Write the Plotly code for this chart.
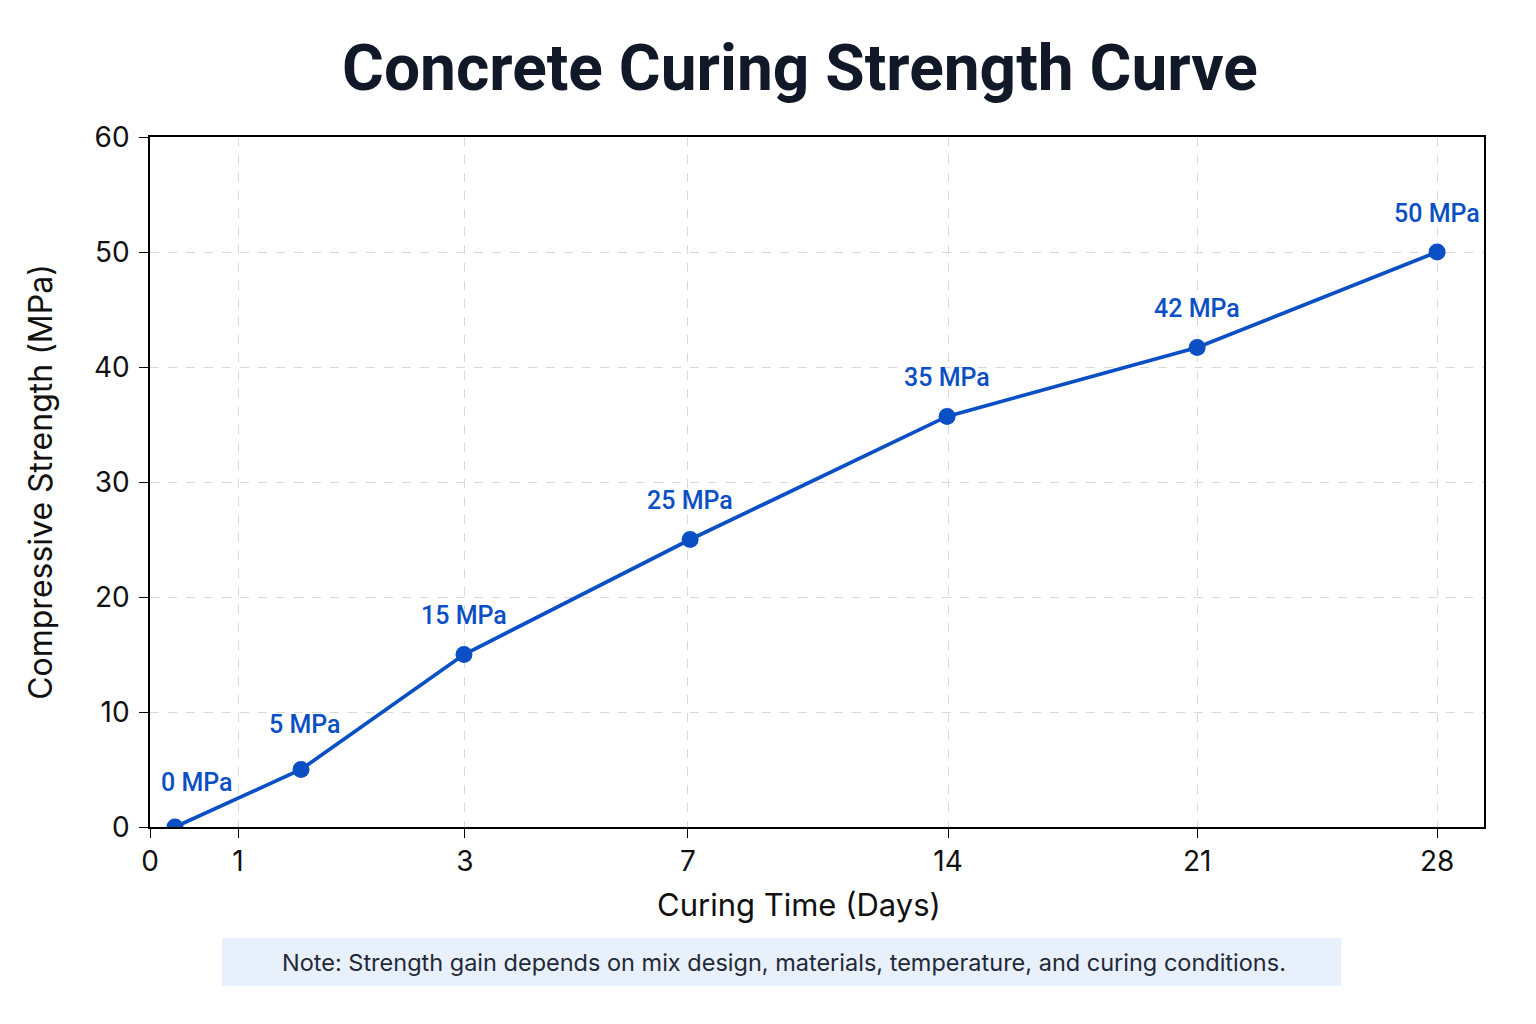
import plotly.graph_objects as go

# curing days as printed on the axis, and where the picture puts each tick
tick_labels = ["0", "1", "3", "7", "14", "21", "28"]
tick_pos = [0, 1.915, 6.85, 11.70, 17.36, 22.78, 28]

# measured points (x in the same axis units as the ticks)
point_pos = [0.544, 3.285, 6.83, 11.75, 17.34, 22.78, 28]
strength = [0, 5, 15, 25, 35.7, 41.7, 50]
point_labels = ["0 MPa", "5 MPa", "15 MPa", "25 MPa", "35 MPa", "42 MPa", "50 MPa"]

blue = "#0b4fc4"

fig = go.Figure(go.Scatter(
    x=point_pos, y=strength,
    mode="lines+markers",
    line=dict(color=blue, width=3.7),
    marker=dict(color=blue, size=17),
    hoverinfo="skip",
))

annotations = []
for i, (px, val, lab) in enumerate(zip(point_pos, strength, point_labels)):
    annotations.append(dict(
        x=px, y=val, xref="x", yref="y", text=lab, showarrow=False,
        yshift=39 if i > 1 else 45, xshift=22 if i == 0 else (4 if i == 1 else 0),
        font=dict(family="Roboto", size=25, color=blue, weight=500),
    ))

# x axis title placed as annotation (it sits a little left of the plot centre)
annotations.append(dict(
    x=0.4865, y=-0.113, xref="paper", yref="paper", showarrow=False,
    xanchor="center", yanchor="middle",
    text="Curing Time (Days)",
    font=dict(family="Inter", size=31, color="#111"),
))

annotations.append(dict(
    x=0.475, y=-0.1957, xref="paper", yref="paper", showarrow=False,
    xanchor="center", yanchor="middle",
    text="Note: Strength gain depends on mix design, materials, temperature, and curing conditions.",
    font=dict(family="Inter", size=23.5, color="#1f2937"),
))

fig.update_layout(
    width=1536, height=1024,
    margin=dict(l=142, r=60, t=129, b=205),
    paper_bgcolor="white", plot_bgcolor="white",
    showlegend=False,
    title=dict(
        text="<b>Concrete Curing Strength Curve</b>",
        x=0.5156, xref="container", xanchor="center",
        y=0.9415, yref="container", yanchor="middle",
        font=dict(family="Roboto", size=64, color="#111827"),
    ),
    annotations=annotations,
    shapes=[dict(
        type="rect", xref="paper", yref="paper",
        x0=0.054, x1=0.893, y0=-0.2304, y1=-0.161,
        fillcolor="#e8f0fb", line=dict(width=0), layer="below",
    )],
)

fig.update_xaxes(
    range=[0, 29.02], tickvals=tick_pos, ticktext=tick_labels,
    showline=True, mirror=True, linecolor="black", linewidth=1.5,
    ticks="outside", ticklen=9, tickcolor="black",
    showgrid=True, gridcolor="#d9d9d9", griddash="dash", gridwidth=1,
    zeroline=False,
    tickfont=dict(family="Inter", size=28, color="#111"),
)
fig.update_yaxes(
    range=[0, 60], dtick=10,
    showline=True, mirror=True, linecolor="black", linewidth=1.5,
    ticks="outside", ticklen=9, tickcolor="black", ticklabelstandoff=4,
    showgrid=True, gridcolor="#d9d9d9", griddash="dash", gridwidth=1,
    zeroline=False,
    tickfont=dict(family="Inter", size=28, color="#111"),
    title=dict(text="Compressive Strength (MPa)", standoff=32,
               font=dict(family="Inter", size=32, color="#111")),
)

fig.write_html("out.html")
